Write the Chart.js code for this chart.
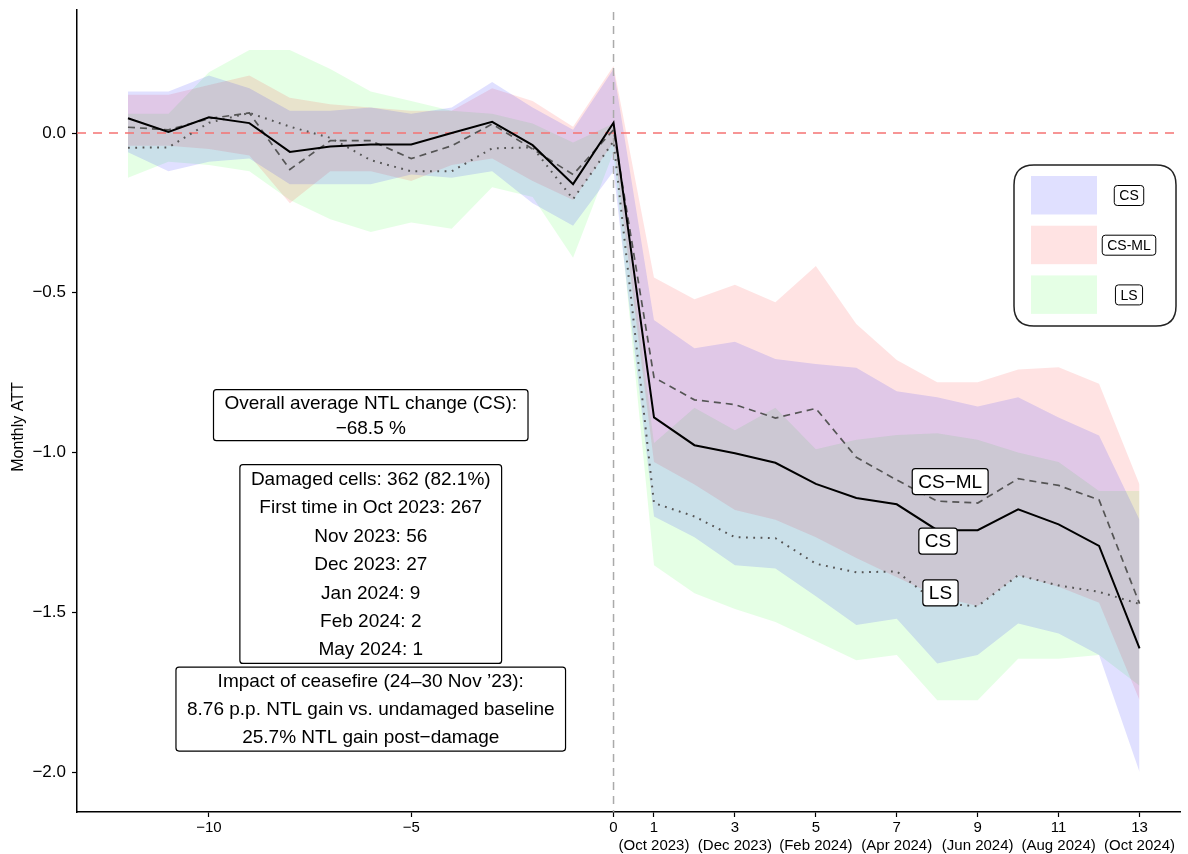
<!DOCTYPE html>
<html><head><meta charset="utf-8">
<script src="https://cdn.jsdelivr.net/npm/chart.js@4.4.0/dist/chart.umd.min.js"></script>
<style>html,body{margin:0;padding:0;background:#fff}#wrap{width:1188px;height:854px}</style>
</head><body><div id="wrap"><canvas id="c" width="1188" height="854"></canvas></div>
<script>
// ---- data ----
const periods = [-12,-11,-10,-9,-8,-7,-6,-5,-4,-3,-2,-1,0,1,2,3,4,5,6,7,8,9,10,11,12,13];
const cs    = [0.046,0.003,0.049,0.031,-0.059,-0.042,-0.036,-0.036,0.0,0.035,-0.038,-0.16,0.032,
               -0.89,-0.977,-1.002,-1.032,-1.098,-1.142,-1.162,-1.243,-1.243,-1.178,-1.225,-1.292,-1.613];
const csml  = [0.018,0.01,0.045,0.063,-0.114,-0.024,-0.024,-0.08,-0.04,0.028,-0.05,-0.13,0.01,
               -0.765,-0.835,-0.85,-0.892,-0.862,-1.015,-1.086,-1.152,-1.158,-1.082,-1.103,-1.148,-1.473];
const ls    = [-0.046,-0.045,0.032,0.063,0.02,-0.015,-0.085,-0.12,-0.12,-0.048,-0.045,-0.207,-0.026,
               -1.158,-1.2,-1.265,-1.268,-1.348,-1.375,-1.372,-1.472,-1.481,-1.384,-1.416,-1.436,-1.474];
const csHi  = [0.13,0.13,0.18,0.14,0.07,0.07,0.08,0.06,0.08,0.16,0.08,0.01,0.20,
               -0.585,-0.674,-0.653,-0.707,-0.723,-0.735,-0.808,-0.827,-0.856,-0.827,-0.89,-0.947,-1.21];
const csLo  = [-0.06,-0.12,-0.09,-0.08,-0.16,-0.16,-0.16,-0.13,-0.14,-0.12,-0.22,-0.29,-0.12,
               -1.2,-1.265,-1.353,-1.363,-1.45,-1.54,-1.52,-1.66,-1.634,-1.535,-1.566,-1.634,-2.0];
const csmlHi= [0.12,0.12,0.15,0.18,0.11,0.09,0.08,0.07,0.07,0.14,0.10,0.02,0.21,
               -0.452,-0.52,-0.475,-0.53,-0.416,-0.598,-0.71,-0.78,-0.78,-0.74,-0.733,-0.785,-1.10];
const csmlLo= [-0.04,-0.04,-0.05,-0.07,-0.22,-0.12,-0.12,-0.15,-0.10,-0.08,-0.15,-0.21,-0.03,
               -1.03,-1.10,-1.18,-1.21,-1.265,-1.33,-1.39,-1.45,-1.48,-1.385,-1.42,-1.47,-1.775];
const lsHi  = [0.06,0.06,0.19,0.26,0.26,0.20,0.13,0.10,0.07,0.06,0.03,-0.03,0.03,
               -0.97,-0.86,-0.93,-0.86,-0.99,-0.96,-0.945,-0.94,-0.96,-1.0,-1.03,-1.12,-1.12];
const lsLo  = [-0.14,-0.09,-0.10,-0.12,-0.21,-0.27,-0.31,-0.28,-0.30,-0.17,-0.20,-0.39,-0.06,
               -1.353,-1.44,-1.49,-1.53,-1.59,-1.65,-1.634,-1.775,-1.775,-1.645,-1.645,-1.634,-1.73];
const xTickValues = [-10,-5,0,1,3,5,7,9,11,13];
const xTickDates  = {1:'(Oct 2023)',3:'(Dec 2023)',5:'(Feb 2024)',7:'(Apr 2024)',9:'(Jun 2024)',11:'(Aug 2024)',13:'(Oct 2024)'};
const yTickValues = [0,-0.5,-1,-1.5,-2];
const yTitle = 'Monthly ATT';
const seriesNames = ['CS','CS-ML','LS'];
const lineLabels  = ['CS\u2212ML','CS','LS'];
const statsBox1 = ['Overall average NTL change (CS):','\u221268.5 %'];
const statsBox2 = ['Damaged cells: 362 (82.1%)','First time in Oct 2023: 267','Nov 2023: 56','Dec 2023: 27','Jan 2024: 9','Feb 2024: 2','May 2024: 1'];
const statsBox3 = ['Impact of ceasefire (24\u201330 Nov \u201923):','8.76 p.p. NTL gain vs. undamaged baseline','25.7% NTL gain post\u2212damage'];

const FONT = '"Liberation Sans", Arial, Helvetica, sans-serif';
const bandCS   = 'rgba(0,0,255,0.12)';
const bandCSML = 'rgba(255,0,0,0.11)';
const bandLS   = 'rgba(0,255,0,0.10)';

const pts = arr => periods.map((x,i)=>({x:x,y:arr[i]}));
const minus = v => (v<0?'\u2212':'') + Math.abs(v);

function bandPair(hi, lo, color){
  return [
    {data:pts(hi), borderWidth:0, borderColor:'rgba(0,0,0,0)', pointRadius:0, backgroundColor:color, fill:'+1', order:10, tension:0},
    {data:pts(lo), borderWidth:0, borderColor:'rgba(0,0,0,0)', pointRadius:0, backgroundColor:color, fill:false, order:10, tension:0}
  ];
}

function roundRect(ctx,x,y,w,h,r){
  ctx.beginPath();
  ctx.moveTo(x+r,y); ctx.lineTo(x+w-r,y); ctx.quadraticCurveTo(x+w,y,x+w,y+r);
  ctx.lineTo(x+w,y+h-r); ctx.quadraticCurveTo(x+w,y+h,x+w-r,y+h);
  ctx.lineTo(x+r,y+h); ctx.quadraticCurveTo(x,y+h,x,y+h-r);
  ctx.lineTo(x,y+r); ctx.quadraticCurveTo(x,y,x+r,y); ctx.closePath();
}
function labelBox(ctx, lines, cx, cy, size, lineH, padX, padY, r, lw){
  ctx.save();
  ctx.font = size+'px '+FONT;
  let w = 0; lines.forEach(t=>{w=Math.max(w,ctx.measureText(t).width);});
  const bw = w+2*padX, bh = lines.length*lineH+2*padY;
  const x0 = cx-bw/2, y0 = cy-bh/2;
  roundRect(ctx,x0,y0,bw,bh,r);
  ctx.fillStyle='#fff'; ctx.fill();
  ctx.lineWidth=lw; ctx.strokeStyle='#000'; ctx.stroke();
  ctx.fillStyle='#000'; ctx.textAlign='center'; ctx.textBaseline='middle';
  lines.forEach((t,i)=>ctx.fillText(t,cx,y0+padY+lineH*(i+0.5)+1));
  ctx.restore();
}

// reference lines drawn after the last band (dataset index 3) and before the estimate lines
const refLines = {
  id:'refLines',
  afterDatasetDraw(chart, args){
    if(args.index!==3) return;
    const {ctx, chartArea:a, scales:{x,y}} = chart;
    ctx.save();
    ctx.lineWidth=1.5;
    ctx.strokeStyle='rgba(245,115,115,1)'; ctx.setLineDash([9,7]);
    const y0=y.getPixelForValue(0);
    ctx.beginPath(); ctx.moveTo(a.left,y0); ctx.lineTo(a.right,y0); ctx.stroke();
    ctx.strokeStyle='#aaaaaa'; ctx.setLineDash([8,6]);
    const x0=x.getPixelForValue(0);
    ctx.beginPath(); ctx.moveTo(x0,a.top+2); ctx.lineTo(x0,a.bottom); ctx.stroke();
    ctx.restore();
  }
};
const overlays = {
  id:'overlays',
  afterDraw(chart){
    const {ctx, chartArea:a, scales:{x,y}} = chart;
    // y title
    ctx.save();
    ctx.font='16px '+FONT; ctx.fillStyle='#000'; ctx.textAlign='center'; ctx.textBaseline='middle';
    ctx.translate(19, y.getPixelForValue(-0.92)); ctx.rotate(-Math.PI/2);
    ctx.fillText(yTitle,0,0);
    ctx.restore();
    // line labels
    labelBox(ctx,[lineLabels[0]],x.getPixelForValue(8.32),y.getPixelForValue(-1.091),19,19,6,3.5,3,1.2);
    labelBox(ctx,[lineLabels[1]],x.getPixelForValue(8.02),y.getPixelForValue(-1.277),19,19,6,3.5,3,1.2);
    labelBox(ctx,[lineLabels[2]],x.getPixelForValue(8.08),y.getPixelForValue(-1.439),19,19,6,3.5,3,1.2);
    // stats boxes
    labelBox(ctx,statsBox1,x.getPixelForValue(-6),y.getPixelForValue(-0.883),19,25.5,11,0,3,1.2);
    labelBox(ctx,statsBox2,x.getPixelForValue(-6),y.getPixelForValue(-1.349),19,28.4,11,0,3,1.2);
    labelBox(ctx,statsBox3,x.getPixelForValue(-6),y.getPixelForValue(-1.803),19,28,11,0,3,1.2);
    // legend
    ctx.save();
    const L = a.right-166, T = a.top+155, W = 162, H = 161;
    roundRect(ctx,L,T,W,H,20);
    ctx.fillStyle='#fff'; ctx.fill(); ctx.lineWidth=1.5; ctx.strokeStyle='#222'; ctx.stroke();
    const cols=[bandCS,bandCSML,bandLS];
    for(let i=0;i<3;i++){
      const sy = T+11+i*49.7;
      ctx.fillStyle=cols[i]; ctx.fillRect(L+17,sy,66,38.5);
      labelBox(ctx,[seriesNames[i]],L+115,sy+19.5,14,15,5,2.5,3,1);
    }
    ctx.restore();
  }
};

new Chart(document.getElementById('c'),{
  type:'line',
  data:{datasets:[
    {data:pts(cs), borderColor:'#000', borderWidth:2, pointRadius:0, fill:false, order:0, tension:0},
    {data:pts(csml), borderColor:'#555', borderWidth:1.7, borderDash:[7,5], pointRadius:0, fill:false, order:1, tension:0},
    {data:pts(ls), borderColor:'#555', borderWidth:2, borderDash:[1.8,5.5], pointRadius:0, fill:false, order:2, tension:0},
    ...bandPair(csHi,csLo,bandCS),
    ...bandPair(csmlHi,csmlLo,bandCSML),
    ...bandPair(lsHi,lsLo,bandLS)
  ]},
  options:{
    responsive:false, animation:false, devicePixelRatio:1,
    layout:{padding:{top:10,right:8,left:0,bottom:0}},
    plugins:{legend:{display:false},tooltip:{enabled:false}},
    events:[],
    scales:{
      x:{type:'linear',min:-13.26,max:14,
         afterBuildTicks(s){s.ticks=xTickValues.map(v=>({value:v}));},
         afterFit(s){s.height=42; s.paddingLeft=0; s.paddingRight=0;},
         ticks:{autoSkip:false,maxRotation:0,padding:2,color:'#000',font:{family:FONT,size:15},
                callback(v){return xTickDates[v]?[String(v),xTickDates[v]]:minus(v);}},
         grid:{drawOnChartArea:false,drawTicks:true,tickLength:5,color:'#000',tickWidth:1.2},
         border:{display:true,color:'#000',width:1.5}},
      y:{type:'linear',min:-2.125,max:0.385,
         afterBuildTicks(s){s.ticks=yTickValues.map(v=>({value:v}));},
         afterFit(s){s.width=77; s.paddingTop=0; s.paddingBottom=0;},
         ticks:{padding:6,color:'#000',font:{family:FONT,size:17},
                callback(v){return (v<0?'\u2212':'')+Math.abs(v).toFixed(1);}},
         grid:{drawOnChartArea:false,drawTicks:true,tickLength:5,color:'#000',tickWidth:1.2},
         border:{display:true,color:'#000',width:1.5},
         title:{display:false}}
    }
  },
  plugins:[refLines,overlays]
});
</script></body></html>
